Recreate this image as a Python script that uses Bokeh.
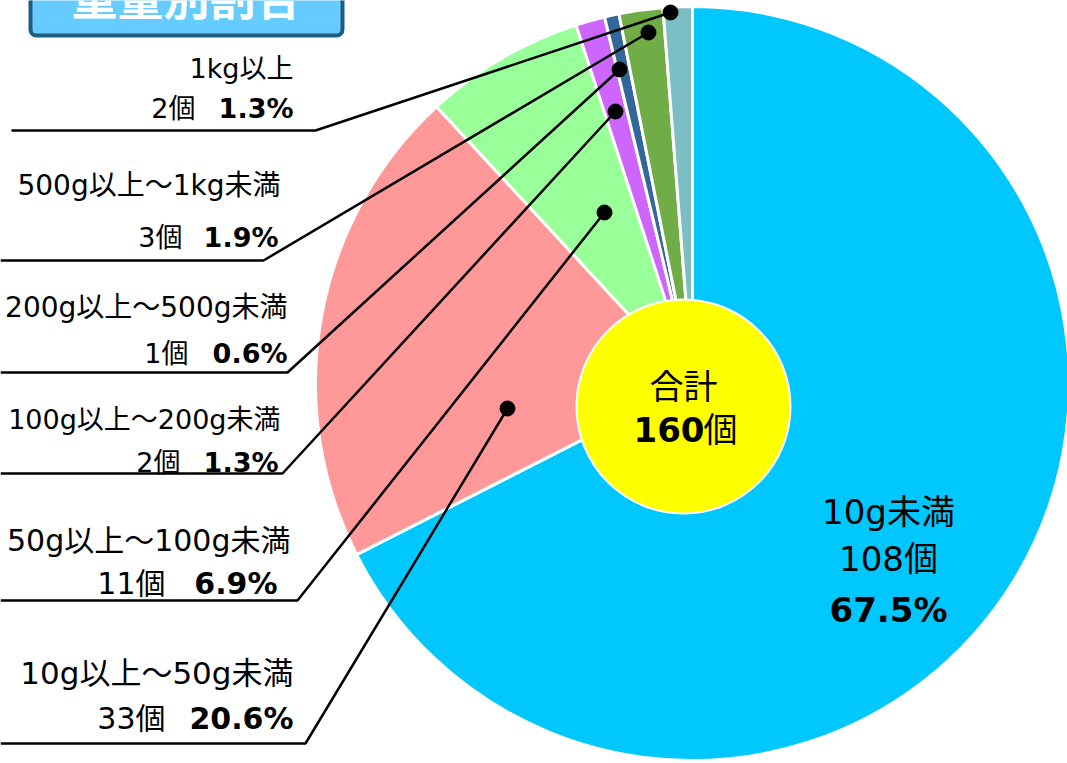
import numpy as np
from bokeh.plotting import figure
from bokeh.models import Range1d
from bokeh.core.properties import value
from bokeh.embed import file_html
from bokeh.resources import INLINE

# ---------------- data ----------------
categories = ["10g未満", "10g以上～50g未満", "50g以上～100g未満", "100g以上～200g未満",
              "200g以上～500g未満", "500g以上～1kg未満", "1kg以上"]
counts = [108, 33, 11, 2, 1, 3, 2]
percents = ["67.5%", "20.6%", "6.9%", "1.3%", "0.6%", "1.9%", "1.3%"]
colors = ["#00C8FF", "#FF9999", "#99FF99", "#CC66FF", "#336699", "#70AD47", "#7BBFC4"]
title_text = "重量別割合"
total_label = "合計"
total_unit = "個"

# ---------------- layout ----------------
W, H = 1067, 763
FONT = "DejaVu Sans, Noto Sans CJK JP"

def sy(y):
    return H - y

p = figure(width=W, height=H, x_range=Range1d(0, W), y_range=Range1d(0, H),
           output_backend="svg", toolbar_location=None, min_border=0,
           x_axis_location=None, y_axis_location=None)
p.grid.visible = False
p.outline_line_color = None
p.background_fill_color = "white"
p.border_fill_color = "white"
p.styles = {"position": "absolute", "left": "0px", "top": "0px"}

# pie
cx, cy, R = 692, sy(383), 377
total = sum(counts)
frac = np.array(counts) / total
cum_end = np.cumsum(frac)
cum_start = cum_end - frac
start_angle = np.pi / 2 - 2 * np.pi * cum_end
end_angle = np.pi / 2 - 2 * np.pi * cum_start
p.wedge(x=cx, y=cy, radius=R, start_angle=start_angle, end_angle=end_angle,
        direction="anticlock", fill_color=colors, line_color="white", line_width=3)

# center circle
p.circle(x=683, y=sy(406), radius=107, fill_color="#FFFF00", line_color="white", line_width=2)
p.text(x=[683], y=[sy(386)], text=[total_label], text_font=value(FONT), text_font_size="34px",
       text_align="center", text_baseline="middle", text_color="black")
p.text(x=[704], y=[sy(429)], text=[str(total)], text_font=value(FONT), text_font_size="34px",
       text_font_style="bold", text_align="right", text_baseline="middle", text_color="black")
p.text(x=[703], y=[sy(429)], text=[total_unit], text_font=value(FONT), text_font_size="34px",
       text_align="left", text_baseline="middle", text_color="black")

# label of the big slice
p.text(x=[888] * 2, y=[sy(511), sy(558)], text=[categories[0], f"{counts[0]}個"],
       text_font=value(FONT), text_font_size="34px", text_align="center",
       text_baseline="middle", text_color="black")
p.text(x=[888], y=[sy(609)], text=[percents[0]], text_font=value(FONT), text_font_size="34px",
       text_font_style="bold", text_align="center", text_baseline="middle", text_color="black")

# outside labels (index 1..6)
dots = {1: (507, 408), 2: (604, 212), 3: (615, 111), 4: (619, 69), 5: (648, 32), 6: (670, 12)}
elbow = {1: (305, 743), 2: (297, 600), 3: (282, 473), 4: (287, 372), 5: (263, 260), 6: (315, 130)}
line_x0 = {1: 0, 2: 0, 3: 0, 4: 0, 5: 0, 6: 11}
name_pos = {1: (293, 672), 2: (290, 540), 3: (280, 419), 4: (287, 307), 5: (280, 185), 6: (293, 68)}
val_y = {1: 718, 2: 583, 3: 462, 4: 353, 5: 237, 6: 108}
pct_x = {1: 293, 2: 277, 3: 278, 4: 287, 5: 278, 6: 293}
cnt_x = {1: 165, 2: 165, 3: 180, 4: 188, 5: 182, 6: 195}
name_fs = {1: "31px", 2: "30px", 3: "27px", 4: "28px", 5: "28px", 6: "27px"}
val_fs = {1: "30px", 2: "30px", 3: "27px", 4: "27px", 5: "27px", 6: "27px"}

xs, ys = [], []
for i in range(1, 7):
    ex, ey = elbow[i]
    dx, dy = dots[i]
    xs.append([line_x0[i], ex, dx])
    ys.append([sy(ey), sy(ey), sy(dy)])
p.multi_line(xs=xs, ys=ys, line_color="black", line_width=2.5)
p.scatter(x=[dots[i][0] for i in range(1, 7)], y=[sy(dots[i][1]) for i in range(1, 7)],
          size=15, fill_color="black", line_color="black")

idx = list(range(1, 7))
p.text(x=[name_pos[i][0] for i in idx], y=[sy(name_pos[i][1]) for i in idx],
       text=[categories[i] for i in idx], text_font=value(FONT),
       text_font_size=[name_fs[i] for i in idx],
       text_align="right", text_baseline="middle", text_color="black")
p.text(x=[cnt_x[i] for i in idx], y=[sy(val_y[i]) for i in idx],
       text=[f"{counts[i]}個" for i in idx], text_font=value(FONT),
       text_font_size=[val_fs[i] for i in idx],
       text_align="right", text_baseline="middle", text_color="black")
p.text(x=[pct_x[i] for i in idx], y=[sy(val_y[i]) for i in idx],
       text=[percents[i] for i in idx], text_font=value(FONT),
       text_font_size=[val_fs[i] for i in idx],
       text_font_style="bold", text_align="right", text_baseline="middle", text_color="black")

# title box (cut at top, as in the reference)
p.quad(left=30, right=342, top=sy(-20), bottom=sy(35), fill_color="#66CCFF",
       line_color="#1B5E80", line_width=4, border_radius=6)
p.text(x=[186], y=[sy(-2)], text=[title_text], text_font=value(FONT), text_font_size="46px",
       text_font_style="bold", text_align="center", text_baseline="middle", text_color="white")

open("out.html", "w").write(file_html(p, INLINE))
